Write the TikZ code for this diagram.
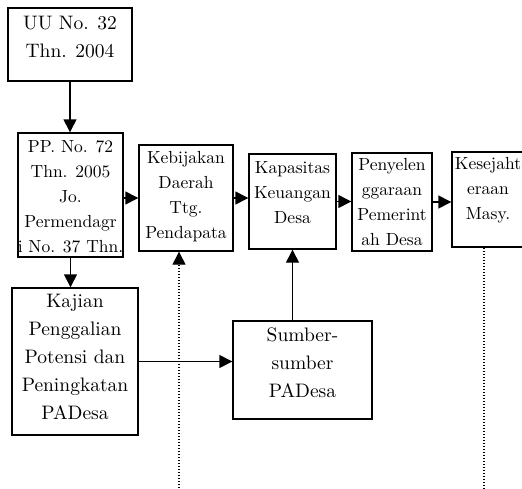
\documentclass[tikz,border=0pt]{standalone}
\usepackage{fontspec}
\setmainfont{lmroman10-regular.otf}
\usepackage{tikz}
\usetikzlibrary{positioning,arrows.meta}

\begin{document}
\begin{tikzpicture}[x=1pt,y=1pt]

% \draw[step=10,gray,very thin] (0,-488) grid (522,0);

\tikzstyle{mybox} = [draw, rectangle, line width=1.4pt, inner sep=0pt]
\tikzstyle{mytext} = [align=center, inner sep=0pt, font=\fontsize{17.5}{25}\selectfont]
\tikzstyle{mybigtext} = [align=center, inner sep=0pt, font=\fontsize{19.5}{28}\selectfont]
\tikzstyle{myarrow} = [line width=1.4pt, -{Triangle[length=13pt,width=13pt]}]
\tikzstyle{mydots} = [line width=1.4pt, dash pattern=on 1.4pt off 1.6pt]

\useasboundingbox (0,0) rectangle (522,-488);
\clip (0,0) rectangle (522,-488);

\node (uu) [mybox,minimum width=124pt,minimum height=73pt] at (70,-44.5) {};
\node (uutext) [mybigtext,below=9pt of uu.north] {UU No. 32\\Thn. 2004};

\node (pp) [mybox,minimum width=105pt,minimum height=124pt] at (70.5,-195) {};
\node (pptext) [mytext,below=8pt of pp.north] {PP. No. 72\\Thn. 2005\\Jo.\\Permendagr\\i No. 37 Thn.};

\node (keb) [mybox,minimum width=94pt,minimum height=106pt] at (186,-198) {};
\node (kebtext) [mytext,below=7pt of keb.north] {Kebijakan\\Daerah\\Ttg.\\Pendapata};

\node (kap) [mybox,minimum width=87pt,minimum height=95pt] at (292.5,-201.5) {};
\node (kaptext) [mytext,below=8pt of kap.north] {Kapasitas\\Keuangan\\Desa};

\node (pen) [mybox,minimum width=80pt,minimum height=98pt] at (392,-202) {};
\node (pentext) [mytext,below=6pt of pen.north] {Penyelen\\ggaraan\\Pemerint\\ah Desa};

\node (kes) [mybox,minimum width=72pt,minimum height=95pt] at (488,-199.5) {};
\node (kestext) [mytext,below=6pt of kes.north] {Kesejaht\\eraan\\Masy.};

\node (kaj) [mybox,minimum width=126pt,minimum height=147pt] at (75,-361.5) {};
\node (kajtext) [mybigtext,below=7pt of kaj.north] {Kajian\\Penggalian\\Potensi dan\\Peningkatan\\PADesa};

\node (sum) [mybox,minimum width=139pt,minimum height=98pt] at (302.5,-370) {};
\node (sumtext) [mybigtext,below=7pt of sum.north] {Sumber-\\sumber\\PADesa};

\draw [myarrow] (uu.south) -- (uu.south |- pp.north);
\draw [myarrow] (pp.east |- keb.west) -- (keb.west);
\draw [myarrow] (keb.east) -- (keb.east -| kap.west);
\draw [myarrow] (kap.east) -- (kap.east -| pen.west);
\draw [myarrow] (pen.east) -- (pen.east -| kes.west);
\draw [myarrow] (pp.south) -- (pp.south |- kaj.north);
\draw [myarrow] (kaj.east) -- (kaj.east -| sum.west);
\draw [myarrow] (sum.north -| kap.south) -- (kap.south);

\coordinate (kebin) at (179,-488);
\draw [mydots,myarrow] (kebin) -- (kebin |- keb.south);
\coordinate (kesout) at (484,-488);
\draw [mydots] (kesout |- kes.south) -- (kesout);

\end{tikzpicture}
\end{document}
